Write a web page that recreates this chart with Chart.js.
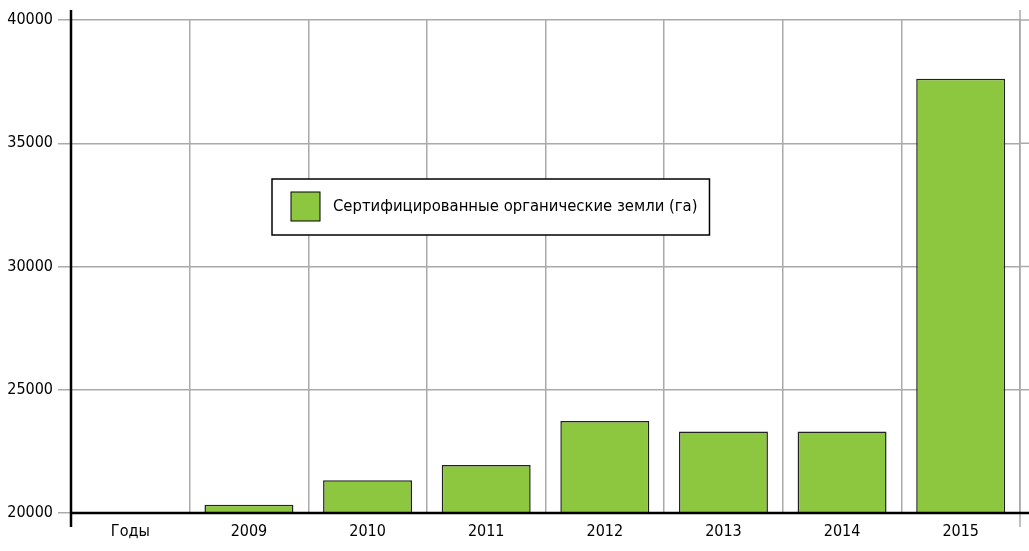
<!DOCTYPE html>
<html>
<head>
<meta charset="utf-8">
<script src="https://cdn.jsdelivr.net/npm/chart.js@4/dist/chart.umd.min.js"></script>
<style>
  html, body { margin: 0; padding: 0; background: #fff; }
  #wrap { width: 1029px; height: 551px; }
</style>
</head>
<body>
<div id="wrap"><canvas id="chart" width="1029" height="551"></canvas></div>
<script>
// categories and values (hectares)
const years = ['Годы', '2009', '2010', '2011', '2012', '2013', '2014', '2015'];
const organicLand = [null, 20330, 21330, 21950, 23730, 23310, 23310, 37620];
const seriesLabel = 'Сертифицированные органические земли (га)';
const yTicks = [20000, 25000, 30000, 35000, 40000];

const FONT = '"DejaVu Sans Condensed", "Liberation Sans Narrow", Arial, sans-serif';
const GREEN = '#8dc63f';
const GRID = '#aaaaaa';

// frame lines that run past the plot area + legend box inside the plot
const framePlugin = {
  id: 'frame',
  afterDatasetsDraw(chart) {
    const { ctx, chartArea: a } = chart;
    const y = chart.scales.y;
    ctx.save();
    // right border and horizontal grid stubs to the canvas edge
    ctx.strokeStyle = GRID;
    ctx.lineWidth = 1.5;
    ctx.beginPath();
    ctx.moveTo(a.right, a.top - 10);
    ctx.lineTo(a.right, a.bottom + 14);
    yTicks.forEach(v => {
      const py = y.getPixelForValue(v);
      ctx.moveTo(a.right, py);
      ctx.lineTo(chart.width, py);
    });
    ctx.stroke();
    // black axes
    ctx.strokeStyle = '#000';
    ctx.lineWidth = 2.5;
    ctx.beginPath();
    ctx.moveTo(a.left, a.top - 10);
    ctx.lineTo(a.left, a.bottom + 14);
    ctx.moveTo(a.left, a.bottom);
    ctx.lineTo(chart.width, a.bottom);
    ctx.stroke();

    // legend
    const ds = chart.data.datasets[0];
    ctx.font = '16.5px ' + FONT;
    const tw = ctx.measureText(ds.label).width;
    const bx = 272, by = 179, bh = 56;
    const bw = 61 + tw + 12;
    ctx.fillStyle = '#fff';
    ctx.fillRect(bx, by, bw, bh);
    ctx.strokeStyle = '#000';
    ctx.lineWidth = 1.5;
    ctx.strokeRect(bx, by, bw, bh);
    ctx.fillStyle = ds.backgroundColor;
    ctx.fillRect(bx + 19, by + 13, 29, 29);
    ctx.lineWidth = 1;
    ctx.strokeRect(bx + 19, by + 13, 29, 29);
    ctx.fillStyle = '#000';
    ctx.textBaseline = 'middle';
    ctx.textAlign = 'left';
    ctx.fillText(ds.label, bx + 61, by + bh / 2);
    ctx.restore();
  }
};

new Chart(document.getElementById('chart'), {
  type: 'bar',
  data: {
    labels: years,
    datasets: [{
      label: seriesLabel,
      data: organicLand,
      backgroundColor: GREEN,
      borderColor: '#222',
      borderWidth: 1.5,
      barPercentage: 0.75,
      categoryPercentage: 1
    }]
  },
  options: {
    responsive: false,
    animation: false,
    layout: { padding: { top: 20, right: 9, left: 0, bottom: 0 } },
    plugins: {
      legend: { display: false },
      tooltip: { enabled: false }
    },
    scales: {
      x: {
        offset: true,
        grid: { offset: true, color: GRID, lineWidth: 1.5, drawTicks: false },
        border: { display: false },
        ticks: { color: '#000', font: { family: FONT, size: 16 }, padding: 9, maxRotation: 0 },
        afterFit: s => { s.height = 38; }
      },
      y: {
        min: 20000,
        max: 40000,
        afterBuildTicks: s => { s.ticks = yTicks.map(v => ({ value: v })); },
        grid: { color: GRID, lineWidth: 1.5, tickLength: 13, tickColor: GRID },
        border: { display: false },
        ticks: { color: '#000', font: { family: FONT, size: 16 }, padding: 5, callback: v => String(v) },
        afterFit: s => { s.width = 71; }
      }
    }
  },
  plugins: [framePlugin]
});
</script>
</body>
</html>
